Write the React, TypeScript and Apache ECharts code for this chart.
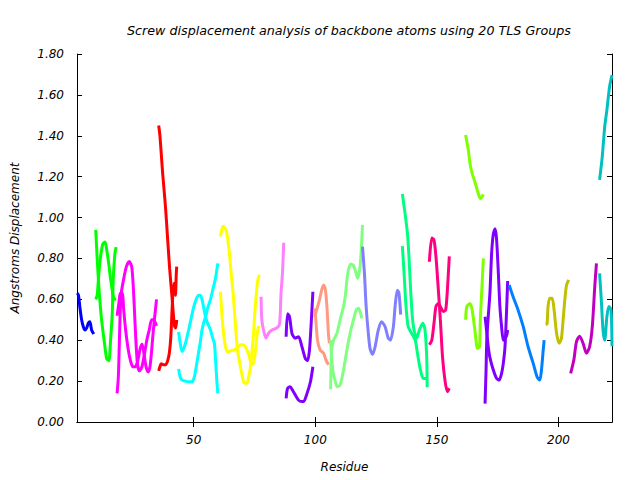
import React, { useEffect, useRef } from "react";
import * as echarts from "echarts";

const xTickValues = [50, 100, 150, 200];

const blue1 = [[2.1,0.63],[2.6,0.62],[3.2,0.56],[3.9,0.50],[4.6,0.466],[5.3,0.45],[6,0.46],[6.65,0.483],[7.3,0.49],[8,0.45],[8.9,0.43]];

const green1 = [[9.7,0.94],[10.3,0.80],[11,0.66],[11.7,0.55],[12.4,0.47],[13.3,0.385],[14.2,0.31],[15.1,0.30],[15.8,0.40],[16.5,0.53],[16.9,0.70],[17.6,0.825],[18.1,0.855]];
const green2 = [[9.7,0.60],[10.3,0.62],[11,0.73],[11.7,0.81],[12.6,0.87],[13.5,0.88],[14.2,0.845],[15.2,0.76],[15.8,0.70],[16.7,0.63],[17.3,0.60],[18.1,0.60]];

const magenta1 = [[18.5,0.14],[19,0.22],[19.4,0.38],[19.8,0.55],[20.2,0.63],[21.2,0.70],[22.3,0.76],[23.5,0.785],[24.5,0.76],[25.2,0.65],[25.8,0.50],[26.3,0.38],[26.9,0.28],[27.7,0.25],[28.7,0.27],[29.7,0.33],[30.7,0.40],[31.7,0.45],[32.7,0.50],[33.5,0.50],[34.7,0.47]];
const magenta2 = [[18.5,0.52],[19.2,0.58],[19.8,0.63],[20.6,0.63],[21.2,0.55],[22,0.45],[23,0.36],[24,0.30],[25,0.27],[26,0.27],[27,0.30],[28,0.36],[28.8,0.38],[29.6,0.33],[30.4,0.27],[31.3,0.245],[32,0.27],[32.7,0.35],[33.4,0.45],[34,0.52],[34.7,0.60]];

const red1 = [[35.6,1.45],[36.1,1.40],[36.6,1.32],[37.2,1.22],[37.7,1.15],[38.4,1.05],[39.3,0.89],[40.1,0.75],[41,0.62],[41.6,0.53],[42.1,0.47],[42.6,0.46],[43,0.50]];
const red2 = [[35.6,0.25],[36.1,0.27],[36.6,0.285],[37.5,0.28],[38.5,0.28],[39.3,0.30],[40,0.34],[40.6,0.42],[41.1,0.55],[41.6,0.66],[42.1,0.68],[42.5,0.62],[42.8,0.72],[43,0.76]];

const cyan1 = [[43.8,0.26],[44.4,0.22],[45.2,0.205],[46.5,0.20],[48,0.197],[49.3,0.197],[50,0.21],[50.6,0.24],[51.3,0.29],[52,0.34],[52.7,0.39],[53.4,0.45],[54.2,0.49],[55,0.52],[55.8,0.56],[56.9,0.60],[57.9,0.65],[58.9,0.70],[59.9,0.776]];
const cyan2 = [[43.8,0.44],[44.5,0.38],[45.2,0.345],[46.5,0.38],[47.9,0.45],[49,0.51],[50,0.563],[51,0.60],[52,0.62],[52.7,0.62],[53.4,0.60],[54.1,0.56],[54.8,0.516],[55.8,0.48],[56.9,0.45],[57.8,0.41],[58.5,0.385],[59,0.30],[59.5,0.20],[59.9,0.14]];

const yellow1 = [[61,0.907],[61.5,0.94],[62.1,0.958],[62.8,0.95],[63.5,0.93],[64.4,0.857],[65.4,0.727],[66.2,0.63],[67.1,0.483],[68,0.352],[69.2,0.27],[70.5,0.197],[71.2,0.19],[71.9,0.19],[72.6,0.22],[73.3,0.27],[74.4,0.40],[75.3,0.563],[76.3,0.69],[77,0.72]];
const yellow2 = [[61,0.637],[61.65,0.516],[62.6,0.40],[63.7,0.344],[64.5,0.345],[65.5,0.35],[66.4,0.352],[67.5,0.36],[68.5,0.37],[69.4,0.378],[70.3,0.378],[71.1,0.37],[71.9,0.352],[72.6,0.33],[73.3,0.30],[74.2,0.28],[74.8,0.30],[75.3,0.34],[76.3,0.45],[77,0.47]];

const pink1 = [[77.7,0.613],[78,0.50],[78.7,0.45],[79.7,0.41],[80.8,0.435],[82.2,0.45],[84.2,0.46],[85.3,0.48],[85.9,0.63],[86.5,0.73],[87,0.877]];

const purple1 = [[88,0.417],[88.6,0.53],[89.4,0.515],[90.4,0.434],[91.7,0.41],[93.1,0.417],[94.5,0.368],[95.9,0.31],[96.8,0.30],[97.6,0.352],[98.3,0.483],[99,0.637]];
const purple2 = [[88,0.116],[88.6,0.165],[89.6,0.173],[91,0.148],[93.1,0.107],[94.5,0.10],[95.2,0.10],[96.6,0.14],[98,0.197],[99,0.27]];

const salmon1 = [[99.7,0.556],[100.2,0.50],[100.9,0.40],[102,0.352],[103.4,0.336],[104.5,0.30],[105.4,0.28]];
const salmon2 = [[99.7,0.515],[100.6,0.55],[101.7,0.597],[102.6,0.645],[103.4,0.67],[104.1,0.65],[104.8,0.56],[105.4,0.43],[105.8,0.385]];

const lightGreen1 = [[106.3,0.16],[106.7,0.35],[107.5,0.40],[108.9,0.434],[110.2,0.50],[111.6,0.565],[112.3,0.613],[113,0.695],[113.6,0.744],[114.6,0.773],[115.7,0.765],[116.8,0.727],[117.4,0.703],[118.4,0.76],[119.1,0.89],[119.4,0.964]];
const lightGreen2 = [[106.3,0.40],[106.8,0.30],[107.5,0.23],[108.2,0.20],[108.9,0.173],[110.2,0.18],[111.6,0.254],[113,0.352],[114.3,0.434],[115.7,0.50],[116.8,0.548],[117.7,0.556],[118.4,0.54],[119.1,0.507]];

const periwinkle1 = [[119.4,0.858],[120.2,0.727],[120.9,0.565],[121.8,0.434],[122.5,0.36],[123.5,0.33],[124.6,0.368],[125.9,0.45],[127.3,0.49],[128.7,0.466],[130,0.41],[130.9,0.40],[132.1,0.466],[132.8,0.565],[133.7,0.645],[134.4,0.63],[135.1,0.525]];

const spring1 = [[135.8,1.115],[136.9,1.02],[137.9,0.92],[138.5,0.81],[139.2,0.645],[139.9,0.515],[140.6,0.45],[141.7,0.41],[142.8,0.45],[144.2,0.483],[145.1,0.45],[145.8,0.32],[146,0.17]];
const spring2 = [[135.8,0.86],[136.5,0.727],[137.3,0.565],[138.2,0.466],[139.6,0.434],[141.1,0.40],[142,0.336],[143.1,0.262],[144.4,0.213],[145.8,0.213]];

const deepPink1 = [[146.9,0.784],[147.9,0.90],[148.8,0.89],[149.6,0.81],[150.6,0.645],[151.5,0.483],[152.3,0.32],[153.3,0.205],[154.3,0.148],[155.1,0.165]];
const deepPink2 = [[146.9,0.378],[147.9,0.40],[148.8,0.483],[149.6,0.565],[150.6,0.58],[151.6,0.56],[152.6,0.54],[153.6,0.548],[154.3,0.645],[155.1,0.81]];

const chartreuse1 = [[161.8,1.404],[162.9,1.331],[163.6,1.265],[164.5,1.216],[165.6,1.175],[167,1.118],[167.9,1.093],[168.5,1.10],[169.1,1.113]];
const chartreuse2 = [[161.8,0.50],[162.3,0.565],[163.6,0.58],[164.5,0.548],[165.6,0.45],[166.7,0.36],[167.5,0.368],[167.9,0.515],[168.4,0.63],[169.1,0.80]];

const violet1 = [[169.8,0.09],[170.2,0.25],[170.5,0.40],[171.1,0.515],[171.8,0.63],[172.5,0.825],[173.2,0.92],[173.9,0.945],[174.5,0.90],[175.2,0.745],[175.9,0.565],[176.6,0.466],[177.3,0.40],[178,0.41],[178.6,0.42],[179.1,0.45]];
const violet2 = [[169.8,0.515],[170.4,0.45],[171.1,0.37],[171.8,0.315],[173.2,0.254],[174.5,0.214],[175.6,0.205],[176.6,0.238],[177.3,0.287],[178,0.368],[178.6,0.53],[179.1,0.69]];

const dodger1 = [[179.7,0.67],[181.4,0.61],[183.4,0.547],[185.5,0.466],[187.5,0.368],[189.6,0.287],[191.2,0.22],[192.3,0.205],[193,0.254],[193.7,0.35],[194.1,0.40]];

const olive1 = [[194.8,0.475],[195.3,0.48],[195.7,0.565],[196.4,0.605],[197.4,0.605],[198.2,0.547],[199.2,0.434],[200.3,0.385],[201.2,0.41],[201.9,0.50],[202.6,0.597],[203.3,0.67],[204.2,0.695]];

const purpleMagenta1 = [[205,0.238],[206.3,0.303],[207.4,0.393],[208.7,0.42],[210.1,0.385],[211.5,0.336],[212.8,0.368],[213.9,0.466],[214.9,0.66],[215.6,0.776]];

const teal1 = [[216.9,1.184],[218,1.298],[219,1.445],[219.9,1.526],[221,1.64],[222,1.697]];
const teal2 = [[216.9,0.727],[217.6,0.597],[218.3,0.45],[219,0.40],[219.9,0.515],[220.7,0.565],[221.6,0.548],[222,0.37]];

const groups = [
  { color: "#0000ff", lines: [blue1] },
  { color: "#00ff00", lines: [green1, green2] },
  { color: "#ff00ff", lines: [magenta1, magenta2] },
  { color: "#ff0000", lines: [red1, red2] },
  { color: "#00ffff", lines: [cyan1, cyan2] },
  { color: "#ffff00", lines: [yellow1, yellow2] },
  { color: "#ff80ff", lines: [pink1] },
  { color: "#8000ff", lines: [purple1, purple2] },
  { color: "#ff9980", lines: [salmon1, salmon2] },
  { color: "#80ff80", lines: [lightGreen1, lightGreen2] },
  { color: "#8080ff", lines: [periwinkle1] },
  { color: "#00ff80", lines: [spring1, spring2] },
  { color: "#ff0080", lines: [deepPink1, deepPink2] },
  { color: "#80ff00", lines: [chartreuse1, chartreuse2] },
  { color: "#8000ff", lines: [violet1, violet2] },
  { color: "#0080ff", lines: [dodger1] },
  { color: "#c0c000", lines: [olive1] },
  { color: "#c000c0", lines: [purpleMagenta1] },
  { color: "#00c0c0", lines: [teal1, teal2] },
];

const FONT = "DejaVu Sans";
const textBase = { fontFamily: FONT, fontStyle: "italic" as const, fontSize: 12, color: "#000" };

export default function App() {
  const ref = useRef<HTMLDivElement>(null);
  useEffect(() => {
    if (!ref.current) return;
    const chart = echarts.init(ref.current, null, { renderer: "svg" });
    const series: any[] = [];
    groups.forEach((g) => {
      g.lines.forEach((d) => {
        series.push({
          type: "line",
          data: d,
          showSymbol: false,
          smooth: 0.25,
          xAxisIndex: 0,
          yAxisIndex: 0,
          lineStyle: { color: g.color, width: 3 },
          itemStyle: { color: g.color },
          silent: true,
        });
      });
    });
    const axisLine = { show: true, lineStyle: { color: "#000", width: 1 } };
    chart.setOption({
      animation: false,
      backgroundColor: "#fff",
      title: {
        text: "Screw displacement analysis of backbone atoms using 20 TLS Groups",
        left: 344,
        top: 19,
        textAlign: "center",
        textStyle: { ...textBase, fontSize: 12.7, fontWeight: "normal" },
      },
      grid: { left: 77, right: 28, top: 54, bottom: 58, containLabel: false, outerBoundsMode: "none" },
      xAxis: [
        {
          type: "value",
          position: "bottom",
          min: 2,
          max: 222,
          name: "Residue",
          nameLocation: "middle",
          nameGap: 39,
          nameTextStyle: textBase,
          axisLine,
          axisTick: { show: true, inside: true, length: 5, customValues: xTickValues, lineStyle: { color: "#000" } },
          axisLabel: { show: true, customValues: xTickValues, margin: 12, ...textBase },
          splitLine: { show: false },
        },
        {
          type: "value",
          position: "top",
          min: 2,
          max: 222,
          axisLine,
          axisTick: { show: true, inside: true, length: 5, customValues: xTickValues, lineStyle: { color: "#000" } },
          axisLabel: { show: false },
          splitLine: { show: false },
        },
      ],
      yAxis: [
        {
          type: "value",
          position: "left",
          min: 0,
          max: 1.8,
          interval: 0.2,
          name: "Angstroms Displacement",
          nameLocation: "middle",
          nameGap: 56,
          nameTextStyle: textBase,
          axisLine,
          axisTick: { show: true, inside: true, length: 5, lineStyle: { color: "#000" } },
          axisLabel: { show: true, margin: 13, formatter: (v: number) => v.toFixed(2), ...textBase },
          splitLine: { show: false },
        },
        {
          type: "value",
          position: "right",
          min: 0,
          max: 1.8,
          interval: 0.2,
          axisLine,
          axisTick: { show: true, inside: true, length: 5, lineStyle: { color: "#000" } },
          axisLabel: { show: false },
          splitLine: { show: false },
        },
      ],
      series,
    });
    return () => chart.dispose();
  }, []);
  return (
    <div
      ref={ref}
      style={{ position: "fixed", left: 0, top: 0, width: 640, height: 480, background: "#fff" }}
    />
  );
}
